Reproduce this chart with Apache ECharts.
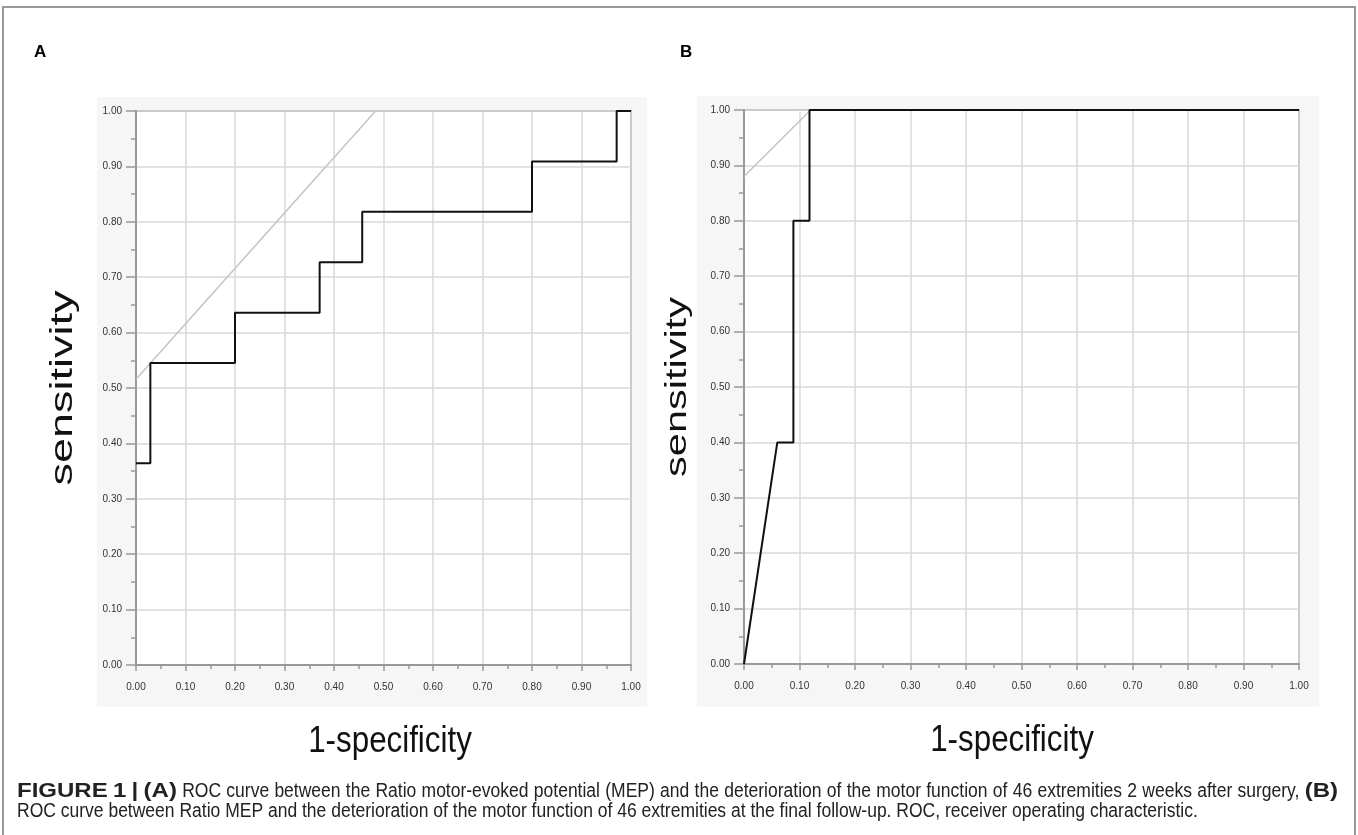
<!DOCTYPE html>
<html>
<head>
<meta charset="utf-8">
<script src="https://cdn.jsdelivr.net/npm/echarts@6/dist/echarts.min.js"></script>
<style>
html,body{margin:0;padding:0;background:#fff;}
#chart{width:1358px;height:835px;}
</style>
</head>
<body>
<div id="chart"></div>
<script>
// Panel A: ROC curve vertices (1-specificity, sensitivity)
const fprA = [0, 0.029, 0.029, 0.2, 0.2, 0.371, 0.371, 0.457, 0.457, 0.8, 0.8, 0.971, 0.971, 1];
const tprA = [0.364, 0.364, 0.545, 0.545, 0.636, 0.636, 0.727, 0.727, 0.818, 0.818, 0.909, 0.909, 1, 1];
// Panel A reference (tangent) line
const refXA = [0, 0.484];
const refYA = [0.516, 1];
// Panel B: ROC curve vertices
const fprB = [0, 0.06, 0.089, 0.089, 0.118, 0.118, 1];
const tprB = [0, 0.4, 0.4, 0.8, 0.8, 1, 1];
// Panel B reference line
const refXB = [0, 0.12];
const refYB = [0.88, 1];

const xTitle = '1-specificity';
const yTitle = 'sensitivity';
// caption line 1 (justified), words prefixed with * are bold
const captionLine1 = '*FIGURE *1 *| *(A) ROC curve between the Ratio motor-evoked potential (MEP) and the deterioration of the motor function of 46 extremities 2 weeks after surgery, *(B)';
const captionLine2 = 'ROC curve between Ratio MEP and the deterioration of the motor function of 46 extremities at the final follow-up. ROC, receiver operating characteristic.';

const pairs = (xs, ys) => xs.map((x, i) => [x, ys[i]]);
const font = "'Liberation Sans', Arial, Helvetica, sans-serif";
const capSize = 20, capScale = 0.875, boldScale = 1.2, capLeft = 17, capRight = 1338, capColor = '#222';

function xAxisCfg(gridIndex) {
  return {
    type: 'value', gridIndex, min: 0, max: 1, interval: 0.1,
    axisLine: {show: true, onZero: false, lineStyle: {color: '#999', width: 2}},
    axisTick: {show: true, length: 6, lineStyle: {color: '#999', width: 1.5}},
    minorTick: {show: true, splitNumber: 2, length: 4, lineStyle: {color: '#999', width: 1.5}},
    splitLine: {show: true, lineStyle: {color: '#d8d8d8', width: 1.5}},
    minorSplitLine: {show: false},
    axisLabel: {fontSize: 10, color: '#333', margin: 17, fontFamily: font,
      formatter: v => v.toFixed(2)}
  };
}
function yAxisCfg(gridIndex) {
  return {
    type: 'value', gridIndex, min: 0, max: 1, interval: 0.1,
    axisLine: {show: true, onZero: false, lineStyle: {color: '#999', width: 2}},
    axisTick: {show: true, length: 10, lineStyle: {color: '#999', width: 1.5}},
    minorTick: {show: true, splitNumber: 2, length: 5, lineStyle: {color: '#999', width: 1.5}},
    splitLine: {show: true, lineStyle: {color: '#d8d8d8', width: 1.5}},
    axisLabel: {fontSize: 10, color: '#333', margin: 14, fontFamily: font,
      formatter: v => v.toFixed(2)}
  };
}
function title(text, x, y, size, sx, rot) {
  return {type: 'text', x, y, rotation: rot || 0, scaleX: sx, scaleY: 1, z: 10,
    style: {text, fontSize: size, fontFamily: font, fill: '#111', align: 'center', verticalAlign: 'middle'}};
}

// Build a justified first caption line from measured word widths
function justifiedLine(line, y) {
  const ctx = document.createElement('canvas').getContext('2d');
  const words = line.split(' ').map(w => {
    const bold = w.startsWith('*');
    const t = bold ? w.slice(1) : w;
    ctx.font = (bold ? 'bold ' : '') + capSize + 'px ' + font;
    const sc = bold ? boldScale : capScale;
    return {t, bold, sc, w: ctx.measureText(t).width * sc};
  });
  const target = capRight - capLeft;
  const total = words.reduce((s, w) => s + w.w, 0);
  const gap = Math.max(3, (target - total) / (words.length - 1));
  let cx = capLeft;
  return words.map(w => {
    const el = {type: 'text', x: cx, y, scaleX: w.sc, scaleY: 1,
      style: {text: w.t, fontSize: capSize, fontFamily: font,
      fontWeight: w.bold ? 'bold' : 'normal', fill: capColor, align: 'left', verticalAlign: 'top'}};
    cx += w.w + gap;
    return el;
  });
}

const chart = echarts.init(document.getElementById('chart'), null, {renderer: 'canvas'});
chart.setOption({
  animation: false,
  backgroundColor: '#fff',
  graphic: [
    {type: 'rect', z: -10, shape: {x: 3, y: 7, width: 1352, height: 900},
      style: {fill: '#fff', stroke: '#9a9a9a', lineWidth: 2}},
    {type: 'rect', z: -5, shape: {x: 97, y: 97, width: 550, height: 610}, style: {fill: '#f6f6f6'}},
    {type: 'rect', z: -5, shape: {x: 697, y: 96, width: 622, height: 611}, style: {fill: '#f6f6f6'}},
    {type: 'text', left: 34, top: 44, style: {text: 'A', fontSize: 17, fontWeight: 'bold', fontFamily: font, fill: '#000'}},
    {type: 'text', left: 680, top: 44, style: {text: 'B', fontSize: 17, fontWeight: 'bold', fontFamily: font, fill: '#000'}},
    title(xTitle, 390, 742, 36, 0.87),
    title(xTitle, 1012, 741, 36, 0.87),
    title(yTitle, 63, 388, 31, 1.45, Math.PI / 2),
    title(yTitle, 678, 387, 29, 1.43, Math.PI / 2),
    ...justifiedLine(captionLine1, 781),
    {type: 'text', x: capLeft, y: 801, scaleX: capScale, scaleY: 1, style: {
      text: captionLine2, fontSize: capSize, fontFamily: font, fill: capColor, align: 'left', verticalAlign: 'top'}}
  ],
  grid: [
    {left: 136, top: 111, width: 495, height: 554, show: true, backgroundColor: '#fff', borderColor: '#a0a0a0', borderWidth: 2},
    {left: 744, top: 110, width: 555, height: 554, show: true, backgroundColor: '#fff', borderColor: '#a0a0a0', borderWidth: 2}
  ],
  xAxis: [xAxisCfg(0), xAxisCfg(1)],
  yAxis: [yAxisCfg(0), yAxisCfg(1)],
  series: [
    {type: 'line', xAxisIndex: 0, yAxisIndex: 0, data: pairs(refXA, refYA), showSymbol: false,
      lineStyle: {color: '#c4c4c4', width: 1.5}, z: 2},
    {type: 'line', xAxisIndex: 0, yAxisIndex: 0, data: pairs(fprA, tprA), showSymbol: false,
      lineStyle: {color: '#111', width: 2}, z: 3},
    {type: 'line', xAxisIndex: 1, yAxisIndex: 1, data: pairs(refXB, refYB), showSymbol: false,
      lineStyle: {color: '#c4c4c4', width: 1.5}, z: 2},
    {type: 'line', xAxisIndex: 1, yAxisIndex: 1, data: pairs(fprB, tprB), showSymbol: false,
      lineStyle: {color: '#111', width: 2}, z: 3}
  ]
});
</script>
</body>
</html>
